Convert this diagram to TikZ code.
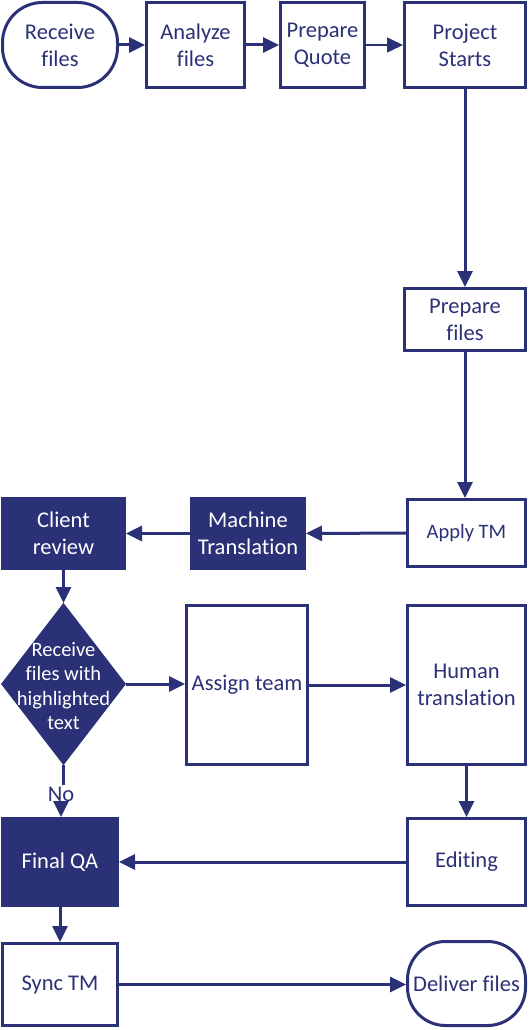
\documentclass[tikz,border=0pt]{standalone}
\usepackage{fontspec}
\setmainfont{Carlito}[Ligatures={NoCommon}]
\usetikzlibrary{arrows.meta,shapes.geometric}
\definecolor{navy}{RGB}{43,49,118}
\tikzset{
 base/.style={draw=navy, line width=3pt, align=center, inner sep=0pt, font=\fontsize{22.5}{27}\selectfont},
 wbox/.style={base, fill=white, text=navy},
 fbox/.style={base, fill=navy, text=white},
 term/.style={wbox, rounded corners=40pt},
 conn/.style={draw=navy, line width=3pt, -{Triangle[length=16pt,width=15pt]}},
 thinconn/.style={conn, line width=1.5pt},
 plainline/.style={draw=navy, line width=3pt},
 sz/.style 2 args={minimum width=#1, minimum height=#2},
}
\begin{document}
\begin{tikzpicture}[x=1pt,y=-1pt]
\useasboundingbox (0,0) rectangle (529,1030);
\node[term, sz={115pt}{85pt}] (rec) at (60,45) {Receive\\files};
\node[wbox, sz={98pt}{85pt}] (ana) at (195.5,45) {Analyze\\files};
\node[wbox, sz={84pt}{85pt}] (quo) at (322.5,45) {Prepare\\Quote};
\node[wbox, sz={121pt}{85pt}] (prj) at (465,45) {Project\\Starts};
\node[wbox, sz={121pt}{62pt}] (prep) at (465,319.5) {Prepare\\files};
\node[wbox, sz={118pt}{67pt}, font=\fontsize{20.5}{24}\selectfont] (atm) at (466.5,533) {Apply TM};
\node[fbox, sz={113pt}{70pt}] (mt) at (248,533.5) {Machine\\Translation};
\node[fbox, sz={122pt}{70pt}] (cr) at (63.5,533.5) {Client\\review};
\node[diamond, fill=navy, draw=navy, line width=1pt, inner sep=0pt, sz={124pt}{161pt}] (dia) at (63.5,684) {};
\node[text=white, align=center, inner sep=0pt, font=\fontsize{20.5}{24.5}\selectfont] (diat) at (63.5,686) {Receive\\files with\\highlighted\\text};
\node[wbox, sz={121pt}{159pt}] (at) at (247,685) {Assign team};
\node[wbox, sz={118pt}{159pt}] (ht) at (466.5,685) {Human\\translation};
\node[fbox, sz={115pt}{87pt}] (fqa) at (60,862) {Final QA};
\node[wbox, sz={118pt}{87pt}] (ed) at (466.5,862) {Editing};
\node[wbox, sz={115pt}{82pt}] (sync) at (60,984.5) {Sync TM};
\node[term, sz={118pt}{84pt}, rounded corners=38pt] (del) at (466.5,983.5) {Deliver files};
\node[text=navy, inner sep=2pt, font=\fontsize{22.5}{27}\selectfont] (no) at (61,794) {No};

\draw[conn] (rec) -- (ana);
\draw[conn] (ana) -- (quo);
\draw[thinconn] (quo) -- (prj);
\draw[conn] (prj) -- (prep);
\draw[conn] (prep.south) -- (prep.south |- atm.north);
\draw[conn] (atm) -- (mt);
\draw[conn] (mt) -- (cr);
\draw[conn] (cr.south) -- (cr.south |- dia.north);
\draw[conn] (dia.east) -- (dia.east -| at.west);
\draw[conn] (at) -- (ht);
\draw[conn] (ht) -- (ed);
\draw[conn] (ed) -- (fqa);
\draw[conn] (fqa) -- (sync);
\draw[conn] (sync) -- (sync -| del.west);
\draw[plainline] (dia.south) -- (dia.south |- no.north);
\draw[conn] (no.south) -- (no.south |- fqa.north);
\end{tikzpicture}
\end{document}
